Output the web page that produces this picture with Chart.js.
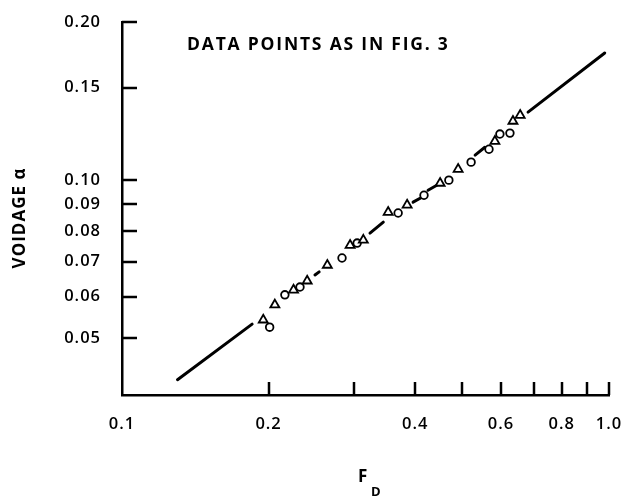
<!DOCTYPE html>
<html>
<head>
<meta charset="utf-8">
<script src="https://cdn.jsdelivr.net/npm/chart.js@4.4.1/dist/chart.umd.min.js"></script>
<style>
  html, body { margin: 0; padding: 0; background: #fff; }
</style>
</head>
<body>
<canvas id="voidage-chart" width="642" height="498"></canvas>
<script>
// data (log-log, F_D vs voidage alpha)
const triangleF     = [0.195, 0.206, 0.225, 0.240, 0.264, 0.294, 0.313, 0.352, 0.385, 0.450, 0.490, 0.583, 0.635, 0.657];
const triangleAlpha = [0.0542, 0.0579, 0.0618, 0.0643, 0.0689, 0.0752, 0.0769, 0.0869, 0.0897, 0.0987, 0.1049, 0.1186, 0.1295, 0.1329];

const circleF     = [0.201, 0.216, 0.232, 0.283, 0.304, 0.369, 0.417, 0.469, 0.521, 0.567, 0.597, 0.626];
const circleAlpha = [0.0525, 0.0605, 0.0626, 0.0711, 0.0759, 0.0866, 0.0936, 0.1000, 0.1082, 0.1145, 0.1224, 0.1229];

// correlation line, drawn in pieces between the markers
const fitLineF     = [[0.130, 0.185], [0.249, 0.254], [0.323, 0.344], [0.396, 0.413], [0.425, 0.443], [0.531, 0.556], [0.682, 0.980]];
const fitLineAlpha = [[0.0417, 0.0532], [0.0660, 0.0669], [0.0793, 0.0832], [0.0908, 0.0928], [0.0957, 0.0978], [0.1116, 0.1155], [0.1347, 0.1746]];

const xTicks  = [0.1, 0.2, 0.3, 0.4, 0.5, 0.6, 0.7, 0.8, 0.9, 1.0];
const xLabels = ["0.1", "0.2", "", "0.4", "", "0.6", "", "0.8", "", "1.0"];
const yTicks  = [0.05, 0.06, 0.07, 0.08, 0.09, 0.10, 0.15, 0.20];
const yLabels = ["0.05", "0.06", "0.07", "0.08", "0.09", "0.10", "0.15", "0.20"];

const tickFont = { family: "'Open Sans', 'DejaVu Sans', sans-serif", size: 16.5, weight: "600" };

const toPoints = (xs, ys) => xs.map((x, i) => ({ x: x, y: ys[i] }));

const lineSets = fitLineF.map((xs, i) => ({
    data: toPoints(xs, fitLineAlpha[i]),
    showLine: true,
    borderColor: "#000",
    borderWidth: 3,
    borderCapStyle: "round",
    pointRadius: 0,
    order: 2
}));

// inward tick marks, axis titles and the note
const paperPlugin = {
    id: "paperPlugin",
    beforeDraw(chart) {
        chart.ctx.letterSpacing = "1px";   // typewriter-ish spacing of the original lettering
    },
    afterDraw(chart) {
        const ctx = chart.ctx;
        const area = chart.chartArea;
        const xs = chart.scales.x;
        const ys = chart.scales.y;
        ctx.save();
        ctx.strokeStyle = "#000";
        ctx.lineWidth = 2.5;
        ctx.lineCap = "butt";
        ctx.beginPath();
        xTicks.slice(1).forEach(v => {
            const px = Math.round(xs.getPixelForValue(v));
            ctx.moveTo(px, area.bottom);
            ctx.lineTo(px, area.bottom - 13);
        });
        yTicks.forEach(v => {
            const py = Math.round(ys.getPixelForValue(v));
            ctx.moveTo(area.left, py);
            ctx.lineTo(area.left + 15, py);
        });
        ctx.stroke();

        ctx.fillStyle = "#000";
        ctx.textBaseline = "alphabetic";
        ctx.textAlign = "left";
        ctx.letterSpacing = "1.8px";
        ctx.font = "bold 17.5px 'Open Sans', 'DejaVu Sans', sans-serif";
        ctx.fillText("DATA POINTS AS IN FIG. 3", 187, 50);

        // x title: F with subscript D
        ctx.letterSpacing = "0px";
        ctx.font = "bold 17px 'Open Sans', 'DejaVu Sans', sans-serif";
        ctx.fillText("F", 358, 482);
        ctx.font = "bold 13px 'Open Sans', 'DejaVu Sans', sans-serif";
        ctx.fillText("D", 371, 496);

        // y title, rotated
        ctx.translate(25, 218);
        ctx.rotate(-Math.PI / 2);
        ctx.textAlign = "center";
        ctx.letterSpacing = "1px";
        ctx.font = "bold 17px 'Open Sans', 'DejaVu Sans', sans-serif";
        ctx.fillText("VOIDAGE \u03b1", 0, 0);
        ctx.restore();
    }
};

new Chart(document.getElementById("voidage-chart"), {
    type: "scatter",
    data: {
        datasets: [
            {
                data: toPoints(triangleF, triangleAlpha),
                pointStyle: "triangle",
                pointRadius: 5.2,
                pointBorderWidth: 1.8,
                pointBorderColor: "#000",
                pointBackgroundColor: "#fff",
                order: 1
            },
            {
                data: toPoints(circleF, circleAlpha),
                pointStyle: "circle",
                pointRadius: 3.8,
                pointBorderWidth: 1.8,
                pointBorderColor: "#000",
                pointBackgroundColor: "#fff",
                order: 1
            },
            ...lineSets
        ]
    },
    options: {
        responsive: false,
        animation: false,
        layout: { padding: { left: 0, right: 33, top: 22, bottom: 0 } },
        plugins: {
            legend: { display: false },
            tooltip: { enabled: false }
        },
        scales: {
            x: {
                type: "logarithmic",
                min: 0.1,
                max: 1.0,
                afterBuildTicks: s => { s.ticks = xTicks.map(v => ({ value: v })); },
                afterFit: s => { s.height = 103; s.paddingLeft = 0; s.paddingRight = 0; },
                ticks: {
                    autoSkip: false,
                    maxRotation: 0,
                    padding: 19,
                    color: "#000",
                    font: tickFont,
                    callback: (v, i) => xLabels[i]
                },
                grid: { drawOnChartArea: false, drawTicks: false, color: "rgba(0,0,0,0)" },
                border: { display: true, color: "#000", width: 2.5 }
            },
            y: {
                type: "logarithmic",
                min: 0.039,
                max: 0.2,
                afterBuildTicks: s => { s.ticks = yTicks.map(v => ({ value: v })); },
                afterFit: s => { s.width = 122; s.paddingTop = 0; s.paddingBottom = 0; },
                ticks: {
                    autoSkip: false,
                    padding: 21,
                    color: "#000",
                    font: tickFont,
                    callback: (v, i) => yLabels[i]
                },
                grid: { drawOnChartArea: false, drawTicks: false, color: "rgba(0,0,0,0)" },
                border: { display: true, color: "#000", width: 2.5 }
            }
        }
    },
    plugins: [paperPlugin]
});
</script>
</body>
</html>
